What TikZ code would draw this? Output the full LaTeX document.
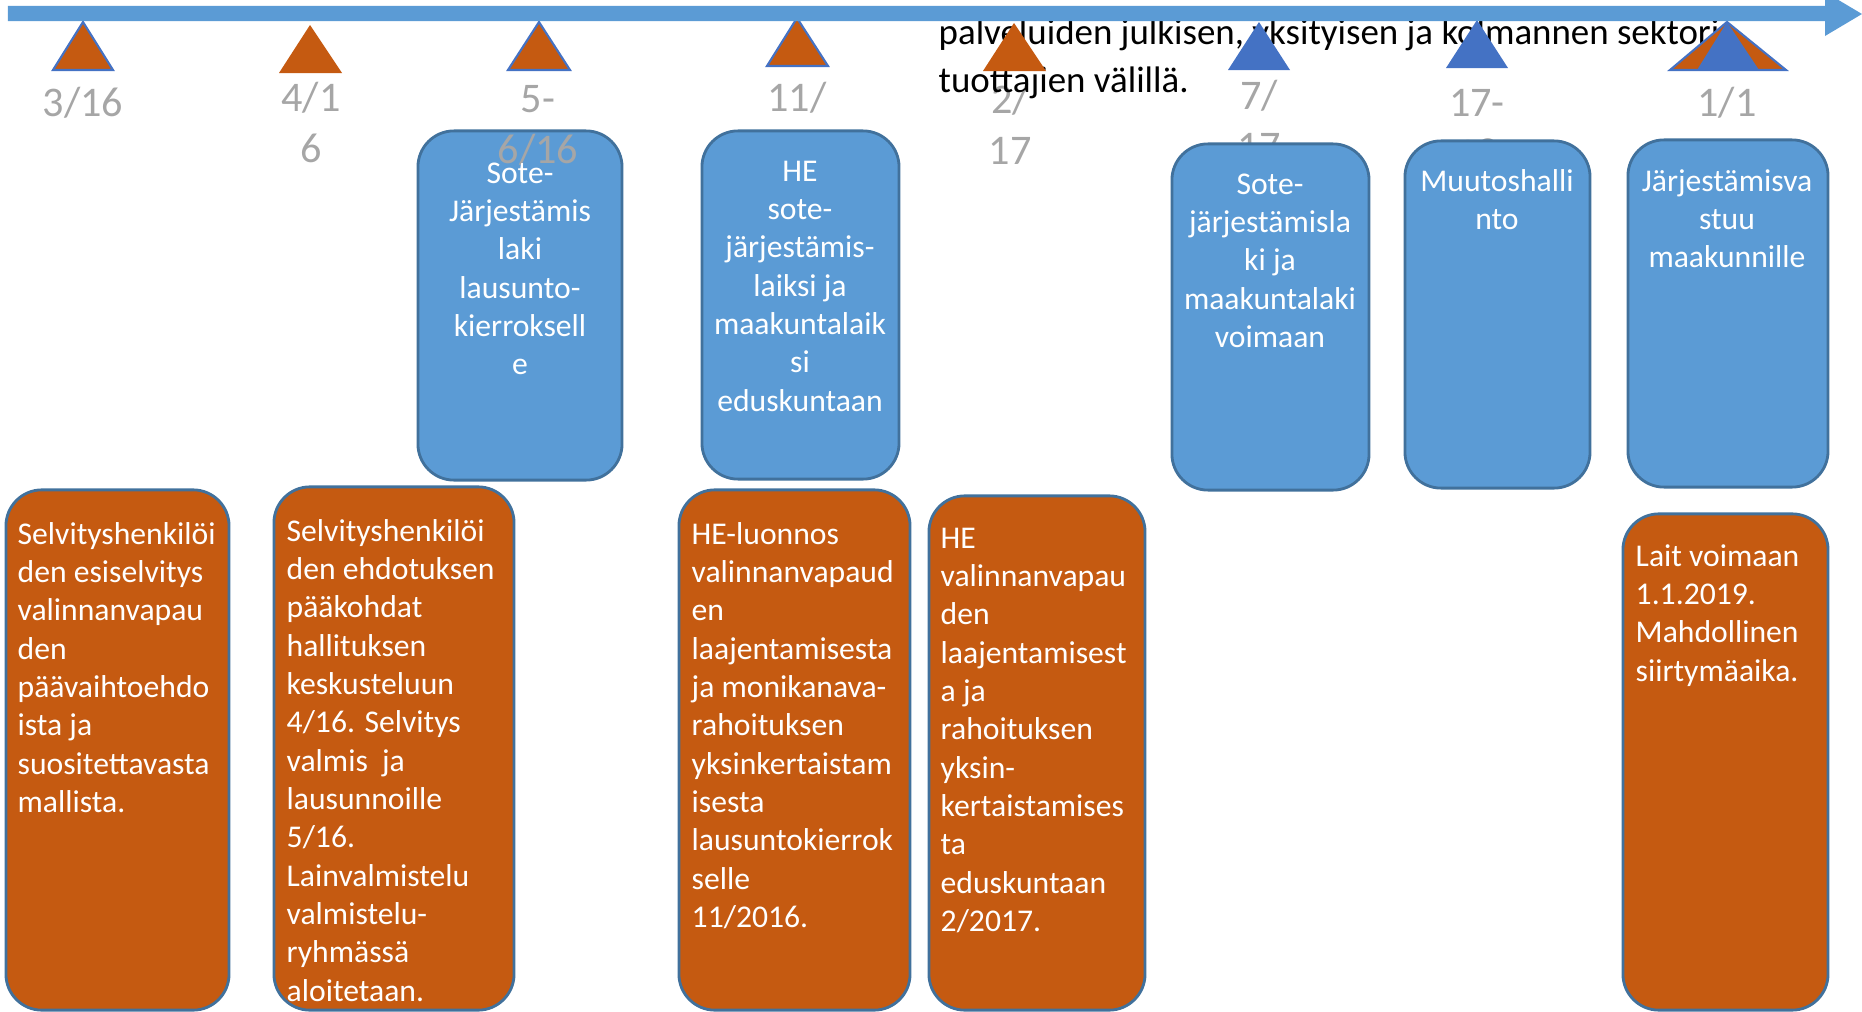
\documentclass[tikz,border=0pt]{standalone}
\usepackage{fontspec}
\setmainfont{Carlito}
\definecolor{barblue}{HTML}{5B9BD5}
\definecolor{edgeblue}{HTML}{41719C}
\definecolor{triblue}{HTML}{4472C4}
\definecolor{orng}{HTML}{C55A11}
\definecolor{dategray}{HTML}{A6A6A6}
\tikzset{
  bluebox/.style={draw=edgeblue, fill=barblue, line width=0.8pt, rounded corners=0.36cm, inner sep=0},
  orangebox/.style={draw=edgeblue, fill=orng, line width=0.8pt, rounded corners=0.36cm, inner sep=0},
  boxtext/.style={text=white, inner sep=0, font=\fontsize{9}{10.9}\selectfont},
  centertext/.style={boxtext, anchor=north, align=center},
  lefttext/.style={boxtext, anchor=north west, align=left},
  datelabel/.style={text=dategray, inner sep=0, anchor=north, align=center, font=\fontsize{12}{14.5}\selectfont},
  notetext/.style={text=black, inner sep=0, anchor=north west, align=left, font=\fontsize{10.5}{13.5}\selectfont},
  orangetri/.style={fill=orng},
  outlinetri/.style={fill=orng, draw=triblue, line width=0.6pt},
  bluetri/.style={fill=triblue},
  timebar/.style={fill=barblue},
}
\begin{document}
\begin{tikzpicture}[x=0.01cm, y=-0.01cm]
\useasboundingbox (0,0) rectangle (1862,1012);

% date labels (behind boxes)
\node[datelabel] (d1) at (83,80) {\strut 3/16};
\node[datelabel] (d2) at (311,75) {\strut 4/1\\6};
\node[datelabel] (d4) at (797,75) {\strut 11/\\16};
\node[datelabel] (d5) at (1010,77.5) {\strut 2/\\17};
\node[datelabel] (d6) at (1259,73) {\strut 7/\\17};
\node[datelabel] (d7) at (1477,80) {\strut 17-\\18};
\node[datelabel] (d8) at (1727,80) {\strut 1/1\\9};

% blue boxes
\node[bluebox, minimum width=2.04cm, minimum height=3.49cm] (b1) at (520,305.5) {};
\node[datelabel] (d3) at (538,76) {\strut 5-\\6/16};
\node[centertext] (b1t) at (520,155.5) {\strut Sote-\\Järjestämis\\laki\\lausunto-\\kierroksell\\e};

\node[bluebox, minimum width=1.97cm, minimum height=3.48cm] (b2) at (800.5,305) {};
\node[centertext] (b2t) at (800,153.5) {\strut HE\\sote-\\järjestämis-\\laiksi ja\\maakuntalaik\\si\\eduskuntaan};

\node[bluebox, minimum width=1.97cm, minimum height=3.46cm] (b3) at (1270.5,317) {};
\node[centertext] (b3t) at (1270,166.5) {\strut Sote-\\järjestämisla\\ki ja\\maakuntalaki\\voimaan};

\node[bluebox, minimum width=1.85cm, minimum height=3.47cm] (b4) at (1497.5,314.5) {};
\node[centertext] (b4t) at (1497,163.5) {\strut Muutoshalli\\nto};

\node[bluebox, minimum width=2.0cm, minimum height=3.47cm] (b5) at (1728,313.5) {};
\node[centertext] (b5t) at (1727,163.5) {\strut Järjestämisva\\stuu\\maakunnille};

% orange boxes
\node[orangebox, minimum width=2.23cm, minimum height=5.2cm] (o1) at (117.5,750) {};
\node[lefttext] (o1t) at (17,516.5) {\strut Selvityshenkilöi\\den esiselvitys\\valinnanvapau\\den\\päävaihtoehdo\\ista ja\\suositettavasta\\mallista.};

\node[orangebox, minimum width=2.40cm, minimum height=5.23cm] (o2) at (394,748.5) {};
\node[lefttext] (o2t) at (286,513.5) {\strut Selvityshenkilöi\\den ehdotuksen\\pääkohdat\\hallituksen\\keskusteluun\\4/16. Selvitys\\valmis\ \ ja\\lausunnoille\\5/16.\\Lainvalmistelu\\valmistelu-\\ryhmässä\\aloitetaan.};

\node[orangebox, minimum width=2.31cm, minimum height=5.2cm] (o3) at (794.5,750) {};
\node[lefttext] (o3t) at (691,516.5) {\strut HE-luonnos\\valinnanvapaud\\en\\laajentamisesta\\ja monikanava-\\rahoituksen\\yksinkertaistam\\isesta\\lausuntokierrok\\selle\\11/2016.};

\node[orangebox, minimum width=2.16cm, minimum height=5.14cm] (o4) at (1037,753) {};
\node[lefttext] (o4t) at (940,520.5) {\strut HE\\valinnanvapau\\den\\laajentamisest\\a ja\\rahoituksen\\yksin-\\kertaistamises\\ta\\eduskuntaan\\2/2017.};

\node[orangebox, minimum width=2.05cm, minimum height=4.96cm] (o5) at (1725.5,762) {};
\node[lefttext] (o5t) at (1635,538.5) {\strut Lait voimaan\\1.1.2019.\\Mahdollinen\\siirtymäaika.};

% black note text
\node[notetext] (note) at (938,11) {\strut palveluiden julkisen, yksityisen ja kolmannen sektorin\\tuottajien välillä.};

% triangles
\path[outlinetri] (53,70) -- (83,22) -- (113,70) -- cycle;
\path[orangetri] (279,73) -- (310,25) -- (342,73) -- cycle;
\path[outlinetri] (508,70) -- (539,22) -- (570,70) -- cycle;
\path[outlinetri] (767,66) -- (797,18) -- (828,66) -- cycle;
\path[orangetri] (983,71) -- (1014,23) -- (1046,71) -- cycle;
\path[bluetri] (1228,70) -- (1259,22) -- (1290,70) -- cycle;
\path[bluetri] (1446,68) -- (1477,20) -- (1508,68) -- cycle;
\path[outlinetri] (1670,70) -- (1727,22) -- (1786,70) -- cycle;
\path[bluetri] (1697,70) -- (1727,22) -- (1759,70) -- cycle;

% timeline arrow
\path[timebar] (8,6) -- (1825,6) -- (1825,-8) -- (1862,14) -- (1825,36) -- (1825,21) -- (8,21) -- cycle;
\end{tikzpicture}
\end{document}
